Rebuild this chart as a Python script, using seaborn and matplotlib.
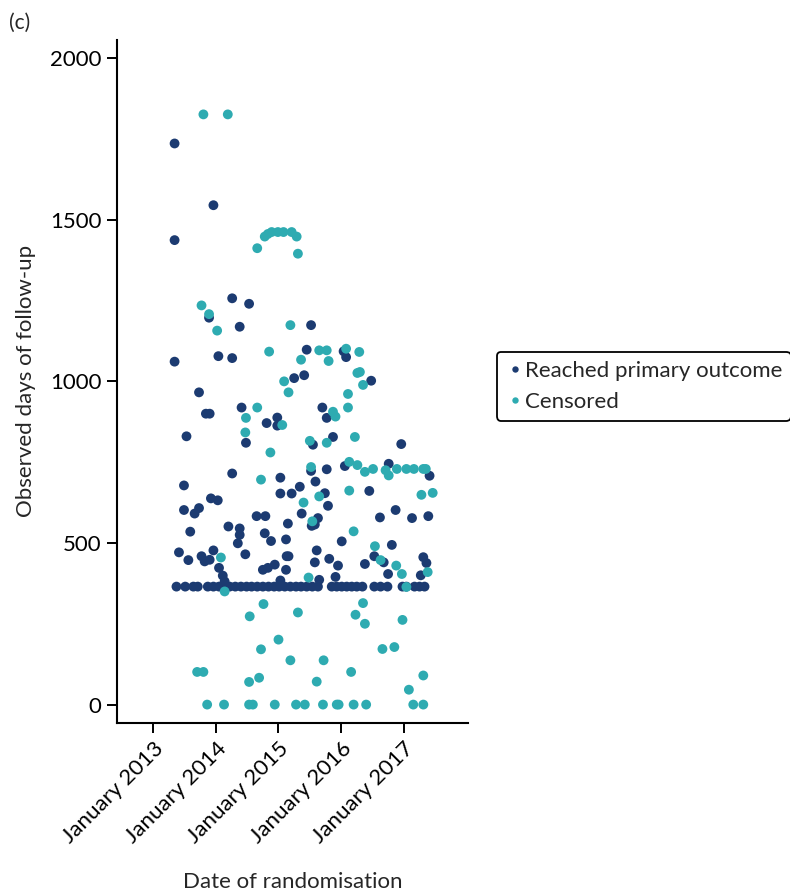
import seaborn as sns
import pandas as pd
import matplotlib.pyplot as plt

# randomisation date as decimal year, observed follow-up in days
reached_year = [
    2013.34, 2013.96, 2013.34, 2013.89, 2014.26, 2014.53, 2014.38, 2015.52, 2013.34, 2014.04,
    2014.26, 2015.45, 2016.04, 2016.08, 2016.48, 2015.25, 2015.41, 2013.73, 2013.84, 2013.90,
    2013.53, 2014.41, 2014.48, 2014.81, 2014.98, 2014.98, 2014.26, 2015.03, 2015.70, 2015.77,
    2015.55, 2015.87, 2016.96, 2015.52, 2015.77, 2016.06, 2016.76, 2017.41, 2015.59, 2015.74,
    2015.79, 2016.45, 2016.62, 2016.87, 2017.13, 2017.39, 2015.63, 2015.58, 2013.49, 2015.34,
    2015.03, 2015.21, 2013.92, 2014.03, 2013.49, 2013.66, 2013.73, 2014.65, 2014.79, 2015.37,
    2015.15, 2014.20, 2014.38, 2014.38, 2013.59, 2014.35, 2014.47, 2014.78, 2014.88, 2015.53,
    2015.12, 2015.13, 2015.16, 2015.12, 2015.61, 2015.58, 2013.41, 2013.56, 2013.77, 2013.82,
    2013.90, 2013.96, 2014.05, 2014.11, 2014.14, 2014.75, 2014.83, 2014.94, 2015.03, 2016.01,
    2015.81, 2015.95, 2015.65, 2015.91, 2016.38, 2016.81, 2016.53, 2016.68, 2016.75, 2017.31,
    2017.36, 2017.27,
    # one-year follow-up
    2013.37, 2013.51, 2013.64, 2013.71, 2013.87, 2013.96, 2014.05, 2014.14, 2014.22, 2014.31,
    2014.40, 2014.49, 2014.57, 2014.66, 2014.75, 2014.84, 2014.93, 2015.01, 2015.10, 2015.19,
    2015.28, 2015.36, 2015.45, 2015.54, 2015.63, 2015.85, 2015.93, 2016.01, 2016.09, 2016.17,
    2016.25, 2016.34, 2016.53, 2016.63, 2016.74, 2016.98, 2017.04, 2017.17, 2017.25, 2017.33,
]
reached_days = [
    1736, 1545, 1437, 1197, 1257, 1240, 1169, 1174, 1061, 1078,
    1072, 1098, 1093, 1075, 1002, 1010, 1019, 966, 900, 900,
    830, 919, 810, 871, 888, 863, 715, 702, 919, 887,
    804, 828, 806, 723, 728, 738, 745, 708, 690, 654,
    615, 661, 579, 602, 577, 583, 577, 557, 678, 674,
    653, 653, 638, 632, 602, 591, 608, 583, 583, 591,
    560, 551, 545, 525, 535, 499, 465, 530, 506, 553,
    511, 459, 459, 417, 477, 440, 471, 447, 459, 443,
    448, 477, 423, 399, 381, 417, 423, 433, 384, 505,
    451, 430, 386, 395, 435, 494, 459, 440, 404, 456,
    438, 400,
    365, 365, 365, 365, 365, 365, 365, 365, 365, 365,
    365, 365, 365, 365, 365, 365, 365, 365, 365, 365,
    365, 365, 365, 365, 365, 365, 365, 365, 365, 365,
    365, 365, 365, 365, 365, 365, 365, 365, 365, 365,
]

censored_year = [
    2013.80, 2014.19, 2014.66, 2014.78, 2014.83, 2014.89, 2014.99, 2015.08, 2015.21, 2015.29,
    2015.31, 2013.77, 2013.89, 2014.02, 2015.19, 2014.85, 2015.65, 2015.77, 2015.36, 2015.80,
    2016.08, 2016.29, 2016.26, 2016.30, 2016.35, 2016.11, 2015.09, 2015.16, 2014.66, 2014.48,
    2014.47, 2015.06, 2014.87, 2014.72, 2015.87, 2015.91, 2016.11, 2016.22, 2015.50, 2015.77,
    2015.52, 2016.13, 2016.26, 2016.38, 2016.51, 2016.71, 2016.76, 2016.89, 2017.04, 2017.16,
    2017.31, 2017.35, 2015.65, 2016.13, 2017.28, 2017.46, 2015.40, 2015.54, 2014.08, 2014.14,
    2015.48, 2016.20, 2016.54, 2016.63, 2016.88, 2016.97, 2017.38, 2017.04, 2016.35, 2016.23,
    2014.76, 2014.54, 2015.31, 2016.38, 2016.98, 2015.00, 2014.72, 2016.66, 2016.85, 2015.19,
    2015.72, 2013.70, 2013.80, 2016.16, 2014.53, 2014.69, 2015.61, 2017.31, 2017.08,
    # censored at randomisation
    2013.86, 2014.13, 2014.53, 2014.59, 2014.94, 2015.28, 2015.42, 2015.71, 2015.93, 2015.96,
    2016.20, 2016.40, 2017.15, 2017.31,
]
censored_days = [
    1826, 1826, 1412, 1448, 1456, 1462, 1462, 1462, 1462, 1448,
    1395, 1235, 1208, 1157, 1174, 1092, 1096, 1096, 1067, 1063,
    1101, 1091, 1026, 1029, 989, 961, 1000, 966, 919, 887,
    842, 865, 780, 696, 906, 891, 919, 828, 816, 810,
    735, 751, 741, 720, 729, 725, 709, 729, 729, 729,
    729, 729, 644, 662, 649, 655, 625, 567, 455, 350,
    393, 536, 490, 447, 430, 404, 410, 364, 314, 278,
    311, 273, 285, 250, 262, 201, 171, 172, 178, 137,
    137, 101, 101, 101, 70, 83, 71, 90, 46,
    0, 0, 0, 0, 0, 0, 0, 0, 0, 0,
    0, 0, 0, 0,
]

groups = ['Reached primary outcome', 'Censored']
colors = ['#1c3b71', '#2eabb1']
tick_years = [2013, 2014, 2015, 2016, 2017]


def to_date(years):
    s = pd.Series(years)
    whole = s.astype(int)
    return pd.to_datetime(whole.astype(str) + '-01-01') + pd.to_timedelta((s - whole) * 365.25, unit='D')


df = pd.concat([
    pd.DataFrame({'date': to_date(reached_year), 'days': reached_days, 'group': groups[0]}),
    pd.DataFrame({'date': to_date(censored_year), 'days': censored_days, 'group': groups[1]}),
], ignore_index=True)

sns.set_style('ticks')
plt.rcParams['font.family'] = ['Lato', 'DejaVu Sans']
plt.rcParams['font.size'] = 16

fig = plt.figure(figsize=(7.9, 8.9), dpi=100)
ax = fig.add_axes([0.148, 0.188, 0.444, 0.767])

sns.scatterplot(data=df, x='date', y='days', hue='group', hue_order=groups,
                palette=colors, s=50, linewidth=0, ax=ax)

ax.set_xlim(pd.Timestamp('2012-06-03'), pd.Timestamp('2018-01-08'))
ax.set_ylim(-56, 2056)
ax.set_yticks([0, 500, 1000, 1500, 2000])
ax.set_xticks([pd.Timestamp(f'{y}-01-01') for y in tick_years])
ax.set_xticklabels([f'January {y}' for y in tick_years], rotation=45,
                   ha='right', rotation_mode='anchor')
ax.tick_params(axis='both', length=7, width=1.4, colors='black', labelsize=16, pad=4)
for side in ['left', 'bottom']:
    ax.spines[side].set_linewidth(1.5)
    ax.spines[side].set_color('black')
sns.despine(ax=ax)

ax.set_xlabel('Date of randomisation', fontsize=16, labelpad=18)
ax.set_ylabel('Observed days of follow-up', fontsize=16, labelpad=10)

handles, labels = ax.get_legend_handles_labels()
leg = ax.legend(handles, labels, loc='center left', bbox_to_anchor=(1.083, 0.493),
                frameon=True, fancybox=True, edgecolor='black', fontsize=16,
                markerscale=0.65, handletextpad=0.05, handlelength=0.8,
                borderpad=0.4, labelspacing=0.5, borderaxespad=0)
leg.get_frame().set_linewidth(1.3)
leg.get_frame().set_alpha(1)

fig.text(0.012, 0.985, '(c)', fontsize=15, va='top', ha='left')

fig.savefig('out.png', dpi=100)
